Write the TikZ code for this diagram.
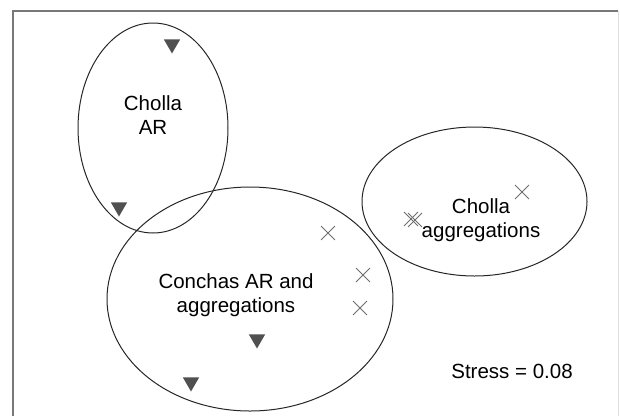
\documentclass[tikz,border=0pt]{standalone}
\usepackage{fontspec}
\setmainfont{Liberation Sans}
\usepackage{tikz}
\usetikzlibrary{shapes.geometric,shapes.misc}
\definecolor{framegray}{RGB}{120,120,120}
\definecolor{markgray}{RGB}{80,80,80}
\definecolor{crossgray}{RGB}{110,110,110}
\tikzstyle{label}=[align=center, font=\fontsize{20.5}{24}\selectfont, inner sep=0pt]
\tikzstyle{group}=[draw=black!85, line width=1pt]
\tikzstyle{site-ar}=[regular polygon, regular polygon sides=3, shape border rotate=180, fill=markgray, inner sep=0pt, minimum size=19pt]
\tikzstyle{site-agg}=[cross out, draw=crossgray, line width=0.9pt, inner sep=0pt, minimum size=13pt]

\begin{document}
\begin{tikzpicture}[x=1pt, y=-1pt]
	\useasboundingbox (0,0) rectangle (620,416);
	% frame
	\draw [framegray, line width=1.6pt] (13,416) -- (13,11) -- (618,11);
	\draw [gray!25, line width=0.8pt] (618,11) -- (618,416);

	% groups
	\draw [group] (153,128) ellipse [x radius=75, y radius=105];
	\draw [group] (250,299) ellipse [x radius=143, y radius=112];
	\draw [group] (474.5,201.5) ellipse [x radius=112.5, y radius=74.5];

	% labels
	 \node [label] (cholla-ar) at (153,115) {Cholla\\AR};
	 \node [label] (conchas) at (236,295) {Conchas AR and\\aggregations};
	 \node [label] (cholla-agg) at (481,220) {Cholla\\aggregations};
	 \node [label] (stress) at (512,371) {Stress = 0.08};

	% artificial reefs
	 \node [site-ar] (a1) at (172,44) {};
	 \node [site-ar] (a2) at (119,207) {};
	 \node [site-ar] (a3) at (257,339) {};
	 \node [site-ar] (a4) at (191,382) {};

	% aggregations
	 \node [site-agg] (g1) at (328,233) {};
	 \node [site-agg] (g2) at (363,275) {};
	 \node [site-agg] (g3) at (360,308) {};
	 \node [site-agg] (g4) at (522,192) {};
	 \node [site-agg] (g5) at (411,219) {};
	 \node [site-agg] (g6) at (415,220) {};
\end{tikzpicture}
\end{document}
